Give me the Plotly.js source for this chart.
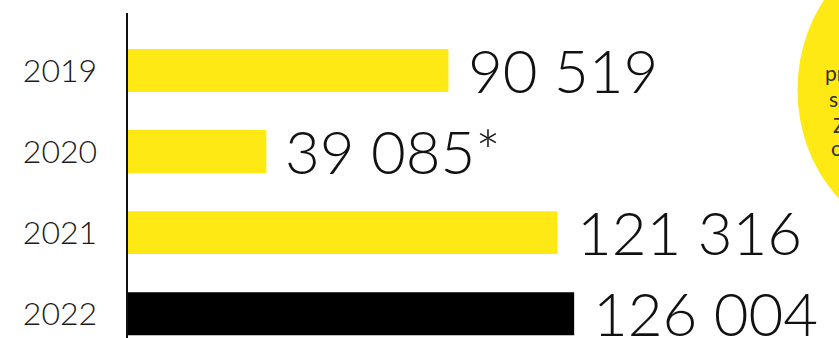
<!DOCTYPE html>
<html>
<head>
<meta charset="utf-8">
<script src="https://cdn.plot.ly/plotly-3.0.1.min.js"></script>
<style>
  html, body { margin: 0; padding: 0; background: #fff; }
  #chart { width: 839px; height: 338px; }
</style>
</head>
<body>
<div id="chart"></div>
<script>
const years = ["2019", "2020", "2021", "2022"];
const values = [90519, 39085, 121316, 126004];
const valueLabels = ["90 519", "39 085*", "121 316", "126 004"];
const barColors = ["#FFE915", "#FFE915", "#FFE915", "#000000"];
const bubbleLines = ["pr", "s", "Z", "o"];

const FONT = "Lato, 'Open Sans', sans-serif";

const trace = {
  type: "bar",
  orientation: "h",
  x: values,
  y: years,
  marker: { color: barColors, line: { width: 0 } },
  width: 0.53,
  hoverinfo: "none"
};

const annotations = values.map((v, i) => ({
  x: v,
  y: i,
  xref: "x",
  yref: "y",
  text: valueLabels[i],
  showarrow: false,
  xanchor: "left",
  yanchor: "middle",
  xshift: 17,
  yshift: 1,
  font: { family: FONT, size: 60, color: "#111", weight: 300 }
}));

// partial text inside the yellow bubble at the right edge
const bubbleX = [820, 825, 830, 827];
const bubbleY = [62, 89, 116, 140];
bubbleLines.forEach((t, i) => {
  annotations.push({
    x: bubbleX[i] / 839,
    y: 1 - bubbleY[i] / 338,
    xref: "paper",
    yref: "paper",
    yanchor: "middle",
    xanchor: "left",
    text: t,
    showarrow: false,
    font: { family: FONT, size: 21, color: "#333", weight: 400 }
  });
});

const layout = {
  width: 839,
  height: 338,
  margin: { l: 128, r: 0, t: 13, b: 0, pad: 0 },
  paper_bgcolor: "#ffffff",
  plot_bgcolor: "rgba(0,0,0,0)",
  showlegend: false,
  bargap: 0.47,
  xaxis: {
    range: [0, 200800],
    visible: false,
    showgrid: false,
    zeroline: false,
    fixedrange: true
  },
  yaxis: {
    type: "category",
    range: [3.3, -0.71],
    showline: true,
    linecolor: "#111",
    linewidth: 2.5,
    showgrid: false,
    zeroline: false,
    ticks: "",
    ticklabelstandoff: 22,
    tickfont: { family: FONT, size: 32, color: "#1a1a1a", weight: 300 },
    fixedrange: true
  },
  shapes: [{
    type: "circle",
    xref: "paper",
    yref: "paper",
    x0: (945 - 155) / 839,
    x1: (945 + 155) / 839,
    y0: 1 - (80 + 155) / 338,
    y1: 1 - (80 - 155) / 338,
    fillcolor: "#FFE915",
    line: { width: 0 },
    layer: "below"
  }],
  annotations: annotations
};

Plotly.newPlot("chart", [trace], layout, { displayModeBar: false, staticPlot: true });
</script>
</body>
</html>
